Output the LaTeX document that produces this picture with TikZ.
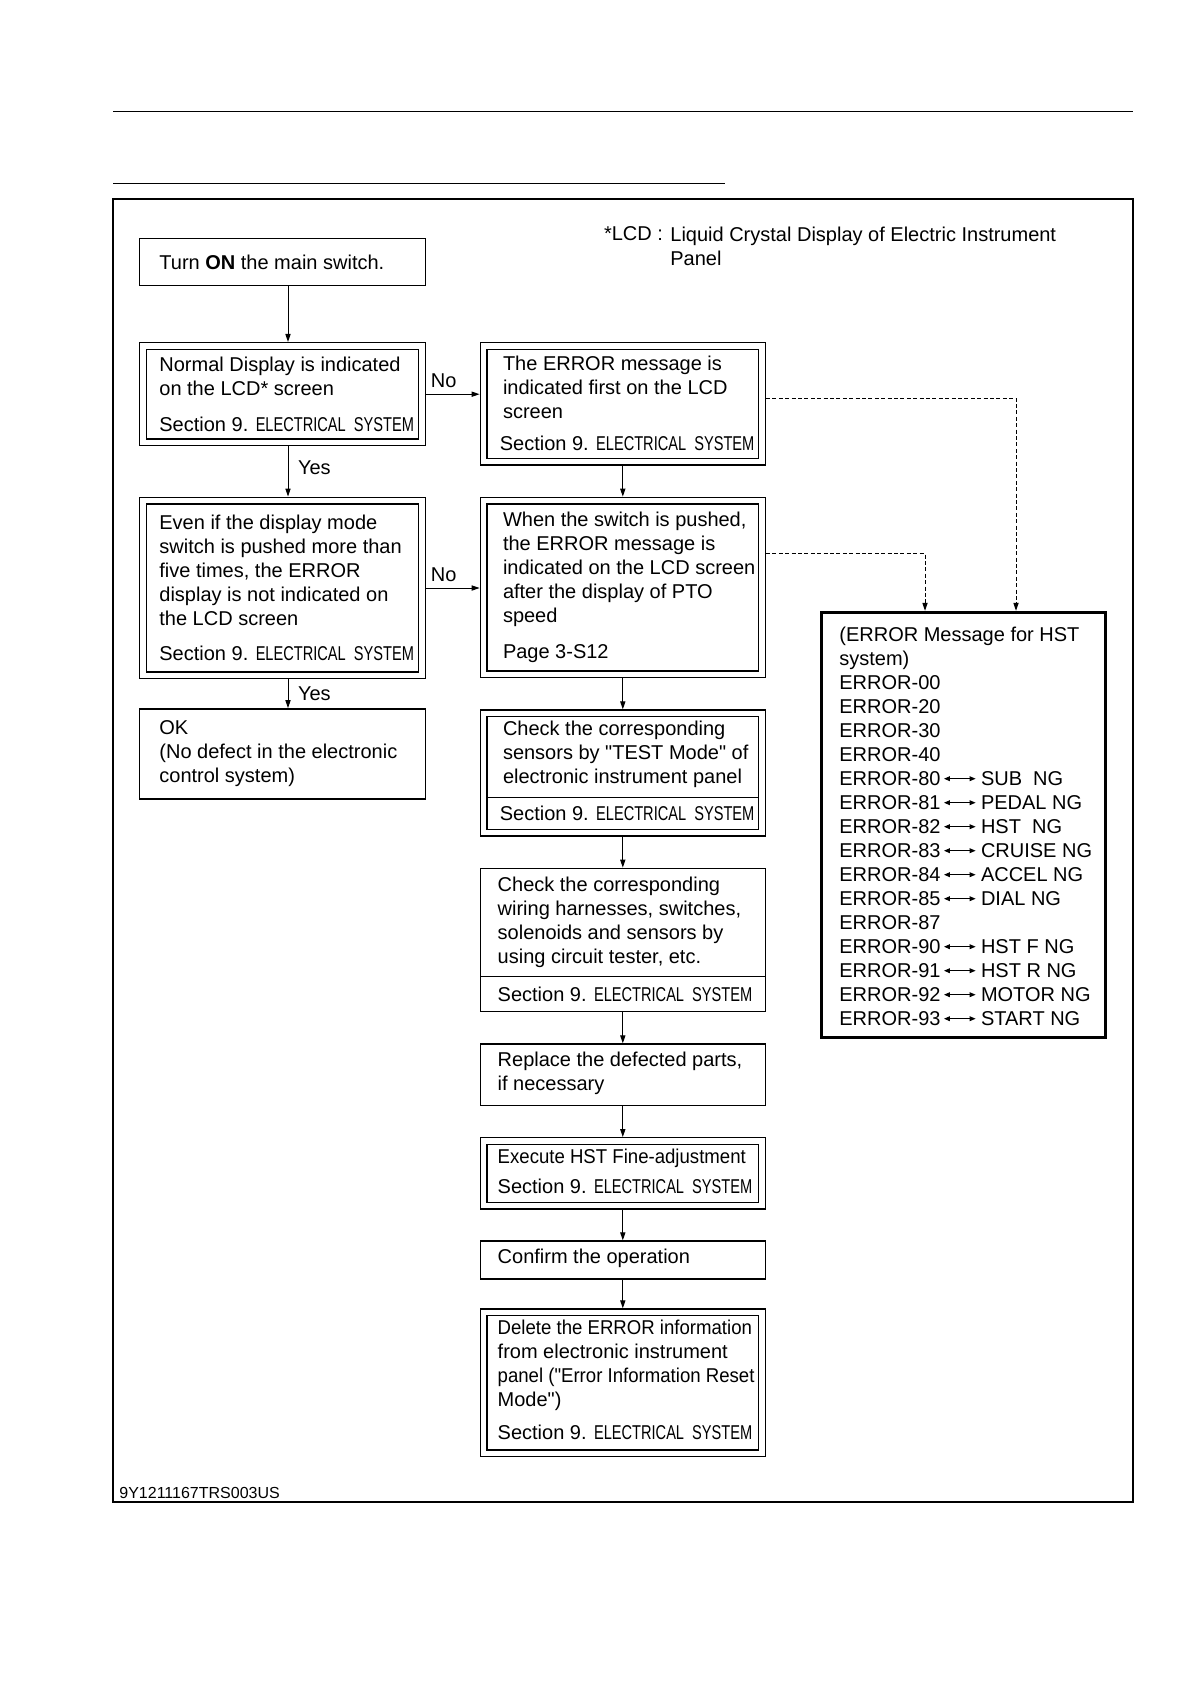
\documentclass[tikz,border=0pt]{standalone}
\usepackage{fontspec}
\setmainfont{Liberation Sans}[Ligatures=TeXOff]
\newfontfamily\condsf{Liberation Sans}[FakeStretch=0.73, Ligatures=TeXOff]
\newfontfamily\narrowsf{Liberation Sans}[FakeStretch=0.93, Ligatures=TeXOff]
\usetikzlibrary{arrows.meta}

\newcommand{\elsys}{Section 9. {\condsf ELECTRICAL~~SYSTEM}}

\begin{document}
\begin{tikzpicture}[x=0.5bp, y=-0.5bp,
    font=\fontsize{10bp}{12bp}\selectfont,
    >={Triangle[length=4bp,width=2.6bp]},
    flowbox/.style={draw, line width=0.7bp, inner sep=0},
    dblbox/.style={flowbox, double, double distance=2.65bp, outer sep=2.025bp},
    boxtext/.style={inner sep=0, anchor=west, align=left},
    link/.style={->, line width=0.5bp},
    dashlink/.style={->, line width=0.5bp, dash pattern=on 2bp off 1.2bp},
    codearrow/.style={{Triangle[length=3bp,width=2.4bp]}-{Triangle[length=3bp,width=2.4bp]}, line width=0.5bp, shorten <=1.5bp, shorten >=2.5bp}]
    \useasboundingbox (0,0) rectangle (1190,1684);

    % page rules and frame
    \draw[line width=0.6bp] (113,111.7) -- (1133,111.7);
    \draw[line width=0.6bp] (113,183.7) -- (725,183.7);
    \draw[line width=0.6bp] (113,199) rectangle (1133,1502);

    % note
    \node[boxtext] (lcdkey) at (603.6,234) {*LCD :};
    \node[boxtext] (lcdnote) at (670,245.9) {Liquid Crystal Display of Electric Instrument\\Panel};

    % left column
    \node[flowbox, minimum width=142.85bp, minimum height=23.65bp] (turnon) at (282.45,262) {};
    \node[dblbox, minimum width=139.5bp, minimum height=48.2bp] (normal) at (282.45,394.2) {};
    \node[dblbox, minimum width=139.5bp, minimum height=87.4bp] (evenif) at (282.45,588) {};
    \node[flowbox, minimum width=142.85bp, minimum height=45.15bp] (okbox) at (282.45,754) {};

    \node[boxtext] (turnontxt) at (159,262) {Turn \textbf{ON} the main switch.};
    \node[boxtext] (normaltxt) at (159,394.2) {Normal Display is indicated\\on the LCD* screen\\[5.7bp]\elsys};
    \node[boxtext] (eveniftxt) at (159,588) {Even if the display mode\\switch is pushed more than\\five times, the ERROR\\display is not indicated on\\the LCD screen\\[5.7bp]\elsys};
    \node[boxtext] (oktxt) at (159,754) {OK\\(No defect in the electronic\\control system)};

    % right column
    \node[dblbox, minimum width=139.15bp, minimum height=57.85bp] (errfirst) at (622.8,403.8) {};
    \node[dblbox, minimum width=139.15bp, minimum height=86.85bp] (pushed) at (622.8,587.5) {};
    \node[dblbox, minimum width=139.15bp, minimum height=59.65bp] (testmode) at (622.8,773) {};
    \node[flowbox, minimum width=142.5bp, minimum height=71.7bp] (wiring) at (622.8,940) {};
    \node[flowbox, minimum width=142.5bp, minimum height=30.75bp] (replace) at (622.8,1074.75) {};
    \node[dblbox, minimum width=139.15bp, minimum height=32.3bp] (finadj) at (622.8,1173.35) {};
    \node[flowbox, minimum width=142.5bp, minimum height=19bp] (confirm) at (622.8,1260) {};
    \node[dblbox, minimum width=139.15bp, minimum height=70.5bp] (reset) at (622.8,1382.85) {};

    % dividers
    \draw[line width=0.7bp] (487,797.5) -- (758.6,797.5);
    \draw[line width=0.7bp] (480.3,976.7) -- (765.3,976.7);

    \node[boxtext] (errfirsttxt) at (502.6,403.8) {The ERROR message is\\indicated first on the LCD\\screen\\[4bp]\hspace*{-1.6bp}\elsys};
    \node[boxtext] (pushedtxt) at (502.6,587.5) {When the switch is pushed,\\the ERROR message is\\indicated on the LCD screen\\after the display of PTO\\speed\\[5.7bp]Page 3-S12};
    \node[boxtext] (testmodetxt) at (502.6,754) {Check the corresponding\\sensors by "TEST Mode" of\\electronic instrument panel};
    \node[boxtext] (testmodesec) at (499.4,813.4) {\elsys};
    \node[boxtext] (wiringtxt) at (497.3,922) {Check the corresponding\\wiring harnesses, switches,\\solenoids and sensors by\\using circuit tester, etc.};
    \node[boxtext] (wiringsec) at (497.3,994) {\elsys};
    \node[boxtext] (replacetxt) at (497.3,1073) {Replace the defected parts,\\if necessary};
    \node[boxtext] (finadjtxt) at (497.3,1171.5) {{\narrowsf Execute HST Fine-adjustment}\\[3bp]\elsys};
    \node[boxtext] (confirmtxt) at (497.3,1258) {Confirm the operation};
    \node[boxtext] (resettxt) at (497.3,1380) {{\narrowsf Delete the ERROR information}\\from electronic instrument\\{\narrowsf panel ("Error Information Reset}\\Mode")\\[4.5bp]\elsys};

    % error list
    \node[draw, line width=1.5bp, minimum width=142bp, minimum height=212.7bp] (errlist) at (963.7,825) {};
    \node[boxtext] (errhead) at (839,648) {(ERROR Message for HST\\system)};
    \foreach \i/\code in {2/00, 3/20, 4/30, 5/40, 12/87}
        \node[boxtext] (e\code) at (839,{634.7+24*\i}) {ERROR-\code};
    \foreach \i/\code/\ng in {6/80/SUB~~NG, 7/81/PEDAL NG, 8/82/HST~~NG, 9/83/CRUISE NG, 10/84/ACCEL NG, 11/85/DIAL NG, 13/90/HST F NG, 14/91/HST R NG, 15/92/MOTOR NG, 16/93/START NG} {
        \node[boxtext] (e\code) at (839,{634.7+24*\i}) {ERROR-\code};
        \node[boxtext] (n\code) at (980.6,{634.7+24*\i}) {\ng};
        \draw[codearrow] (e\code) -- (n\code);
    }

    % connectors
    \coordinate (lcol) at (288,0);
    \draw[link] (turnon.south -| lcol) -- (normal.north -| lcol);
    \draw[link] (normal.south -| lcol) -- node[right, pos=0.43, inner sep=4.75bp] (yes1) {Yes} (evenif.north -| lcol);
    \draw[link] (evenif.south -| lcol) -- node[right, pos=0.5, inner sep=4.75bp] (yes2) {Yes} (okbox.north -| lcol);
    \draw[link] (normal.east) -- node[above, pos=0.33, inner sep=3bp] (no1) {No} (normal.east -| errfirst.west);
    \draw[link] (evenif.east) -- node[above, pos=0.33, inner sep=3bp] (no2) {No} (evenif.east -| pushed.west);
    \foreach \a/\b in {errfirst/pushed, pushed/testmode, testmode/wiring, wiring/replace, replace/finadj, finadj/confirm, confirm/reset}
        \draw[link] (\a.south) -- (\b.north);

    % dashed links to error list
    \coordinate (dA) at (1016,398);
    \coordinate (dB) at (925,553.5);
    \draw[dashlink] (errfirst.east |- dA) -- (dA) -- (errlist.north -| dA);
    \draw[dashlink] (pushed.east |- dB) -- (dB) -- (errlist.north -| dB);

    % document code
    \node[anchor=base west, inner sep=0, font=\fontsize{8bp}{9.6bp}\selectfont] (docid) at (119,1498) {9Y1211167TRS003US};
\end{tikzpicture}
\end{document}
